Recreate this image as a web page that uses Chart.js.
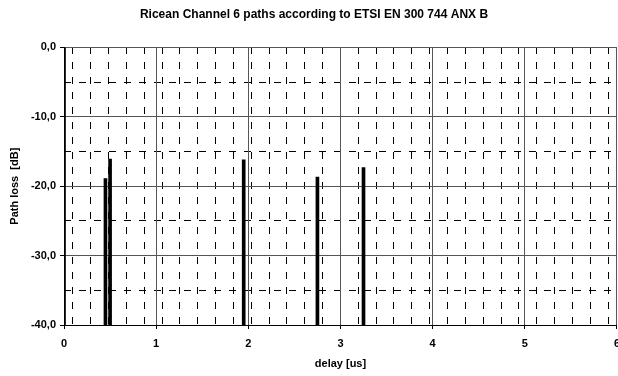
<!DOCTYPE html>
<html>
<head>
<meta charset="utf-8">
<script src="https://cdn.jsdelivr.net/npm/chart.js@4"></script>
<style>
  html, body { margin: 0; padding: 0; background: #fff; overflow: hidden; }
  #wrap { width: 618px; height: 376px; overflow: hidden; }
</style>
</head>
<body>
<div id="wrap"><canvas id="myChart" width="628" height="376"></canvas></div>
<script>
// delays of the paths in us, and their level in dB
const delays = [0, 0.45, 0.5, 1.95, 2.75, 3.25];
const pathLoss = [0, -18.9, -16.1, -16.2, -18.7, -17.3];
const floorDb = -40;

const xMin = 0, xMax = 6, xStep = 1, xMinorStep = 0.2;
const yMin = -40, yMax = 0, yStep = 10, yMinorStep = 5;

const font = 'Liberation Sans, Arial, sans-serif';

const ctx = document.getElementById('myChart').getContext('2d');
new Chart(ctx, {
  type: 'bar',
  data: {
    datasets: [{
      label: 'Path loss',
      data: delays.map((d, i) => ({ x: d, y: [floorDb, pathLoss[i]] })),
      backgroundColor: '#000',
      borderWidth: 0,
      barThickness: 3,
      xAxisID: 'x',
      yAxisID: 'y'
    }]
  },
  options: {
    responsive: false,
    animation: false,
    layout: { padding: { left: 0, right: 0, top: 1, bottom: 1 } },
    scales: {
      xMinor: {
        type: 'linear', position: 'top', min: xMin, max: xMax, z: -1,
        ticks: { display: false, stepSize: xMinorStep },
        grid: { color: '#000', lineWidth: 1, drawTicks: false, offset: false },
        border: { display: false, dash: [7, 8] },
        afterFit: s => { s.height = 0; }
      },
      yMinor: {
        type: 'linear', position: 'right', min: yMin, max: yMax, z: -1,
        ticks: { display: false, stepSize: yMinorStep },
        grid: { color: '#000', lineWidth: 1, drawTicks: false },
        border: { display: false, dash: [7, 8] },
        afterFit: s => { s.width = 0; }
      },
      x: {
        type: 'linear', position: 'bottom', min: xMin, max: xMax, offset: false,
        ticks: {
          stepSize: xStep, padding: 8, color: '#000',
          font: { family: font, size: 11, weight: 'bold' }
        },
        grid: { color: '#555', lineWidth: 1, offset: false, tickLength: 4, tickColor: '#000' },
        border: { color: '#000', width: 1 },
        title: {
          display: true, text: 'delay [us]', color: '#000',
          font: { family: font, size: 11, weight: 'bold' },
          padding: { top: 4, bottom: 4 }
        },
        afterFit: s => { s.height = 50; }
      },
      y: {
        type: 'linear', min: yMin, max: yMax,
        ticks: {
          stepSize: yStep, padding: 4, color: '#000',
          font: { family: font, size: 11, weight: 'bold' },
          callback: v => v.toFixed(1).replace('.', ',')
        },
        grid: { color: '#555', lineWidth: 1, tickLength: 4, tickColor: '#000' },
        border: { color: '#000', width: 1 },
        title: {
          display: true, text: 'Path loss  [dB]', color: '#000',
          font: { family: font, size: 11, weight: 'bold' },
          padding: { top: 8, bottom: 0 }
        },
        afterFit: s => { s.width = 64; }
      }
    },
    plugins: {
      legend: { display: false },
      tooltip: { enabled: false },
      title: {
        display: true,
        text: 'Ricean Channel 6 paths according to ETSI EN 300 744 ANX B',
        color: '#000',
        font: { family: font, size: 12, weight: 'bold' },
        padding: { top: 6, bottom: 26 }
      }
    }
  }
});
</script>
</body>
</html>
